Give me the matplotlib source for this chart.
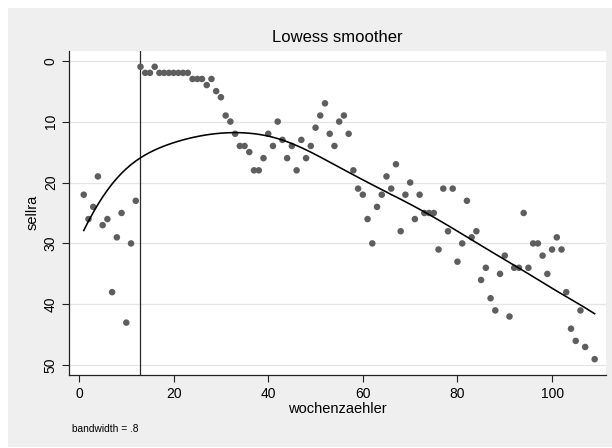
import numpy as np
import matplotlib
matplotlib.use("Agg")
import matplotlib.pyplot as plt
from matplotlib.patches import Rectangle

# ---- data ----
weeks = [1, 2, 3, 4, 5, 6, 7, 8, 9, 10, 11, 12, 13, 14, 15, 16, 17, 18, 19, 20,
         21, 22, 23, 24, 25, 26, 27, 28, 29, 30, 31, 32, 33, 34, 35, 36, 37, 38, 39, 40,
         41, 42, 43, 44, 45, 46, 47, 48, 49, 50, 51, 52, 53, 54, 55, 56, 57, 58, 59, 60,
         61, 62, 63, 64, 65, 66, 67, 68, 69, 70, 71, 72, 73, 74, 75, 76, 77, 78, 79, 80,
         81, 82, 83, 84, 85, 86, 87, 88, 89, 90, 91, 92, 93, 94, 95, 96, 97, 98, 99, 100,
         101, 102, 103, 104, 105, 106, 107, 109]
sellra = [22, 26, 24, 19, 27, 26, 38, 29, 25, 43, 30, 23, 1, 2, 2, 1, 2, 2, 2, 2,
          2, 2, 2, 3, 3, 3, 4, 3, 5, 6, 9, 10, 12, 14, 14, 15, 18, 18, 16, 12,
          14, 10, 13, 16, 14, 18, 13, 16, 14, 11, 9, 7, 12, 14, 10, 9, 12, 18, 21, 22,
          26, 30, 24, 22, 19, 21, 17, 28, 22, 20, 26, 22, 25, 25, 25, 31, 21, 28, 21, 33,
          30, 23, 29, 28, 36, 34, 39, 41, 35, 32, 42, 34, 34, 25, 34, 30, 30, 32, 35, 31,
          29, 31, 38, 44, 46, 41, 47, 49]
vline_x = 13
bandwidth = 0.8
yticks = [0, 10, 20, 30, 40, 50]
xticks = [0, 20, 40, 60, 80, 100]


def stata_lowess(x, y, bw):
    x = np.asarray(x, float)
    y = np.asarray(y, float)
    order = np.argsort(x, kind="stable")
    x, y = x[order], y[order]
    n = len(x)
    k = int(np.floor((n * bw - 0.5) / 2))
    out = np.empty(n)
    for i in range(n):
        lo = max(0, i - k)
        hi = min(n - 1, i + k)
        delta = 1.0001 * max(x[hi] - x[i], x[i] - x[lo])
        xs = x[lo:hi + 1]
        ys = y[lo:hi + 1]
        u = np.abs(xs - x[i]) / delta
        w = (1 - u ** 3) ** 3
        w[u >= 1] = 0
        sw = w.sum()
        mx = (w * xs).sum() / sw
        my = (w * ys).sum() / sw
        sxx = (w * (xs - mx) ** 2).sum()
        if sxx > 0:
            b = (w * (xs - mx) * (ys - my)).sum() / sxx
        else:
            b = 0.0
        out[i] = my + b * (x[i] - mx)
    return x, out


plt.rcParams['font.family'] = ['Liberation Sans', 'DejaVu Sans']

W, H = 612, 448
fig = plt.figure(figsize=(W / 100, H / 100), dpi=100, facecolor='white')
bg = Rectangle((8 / W, 1 - 447 / H), (W - 8) / W, (447 - 8) / H,
               transform=fig.transFigure, facecolor='#efefef',
               edgecolor='none', zorder=-10)
fig.add_artist(bg)

L, R, T, B = 69.3, 606, 50.7, 375
ax = fig.add_axes([L / W, 1 - B / H, (R - L) / W, (B - T) / H])
ax.set_zorder(1)
ax.set_facecolor('white')

ax.set_xlim(-2.05, 111.4)
ax.set_ylim(51.6, -1.64)

for yt in yticks:
    ax.axhline(yt, color='#e4e4e4', lw=0.9, zorder=1)

ax.axvline(vline_x, color='#2a2a2a', lw=0.9, zorder=2)

ax.scatter(weeks, sellra, s=4.7 ** 2, color='#5e5e5e', edgecolors='none', zorder=3)

lx, ly = stata_lowess(weeks, sellra, bandwidth)
ax.plot(lx, ly, color='black', lw=1.15, zorder=4)

for side in ['top', 'right']:
    ax.spines[side].set_visible(False)
for side in ['left', 'bottom']:
    ax.spines[side].set_color('#222222')
    ax.spines[side].set_linewidth(0.9)

ax.set_xticks(xticks)
ax.set_yticks(yticks)
ax.set_yticklabels([str(v) for v in yticks], rotation=90, va='center')
ax.tick_params(axis='both', direction='out', length=4.8, width=0.8,
               color='#222222', labelsize=10, labelcolor='black')
ax.tick_params(axis='x', pad=3.5)
ax.tick_params(axis='y', pad=3.5)

ax.set_xlabel('wochenzaehler', fontsize=10.5)
ax.xaxis.set_label_coords(0.5, (B - 409) / (B - T), transform=ax.transAxes)
ax.xaxis.label.set_va('center')
ax.set_ylabel('sellra', fontsize=10.5)
ax.yaxis.set_label_coords((33 - L) / (R - L), 0.5, transform=ax.transAxes)
ax.yaxis.label.set_va('center')

ax.text(0.5, (B - 38) / (B - T), 'Lowess smoother', transform=ax.transAxes,
        ha='center', va='center', fontsize=12)

fig.text(72 / W, 1 - 429 / H, 'bandwidth = .8', ha='left', va='center', fontsize=7.3)

fig.savefig('out.png', dpi=100, facecolor=fig.get_facecolor())
